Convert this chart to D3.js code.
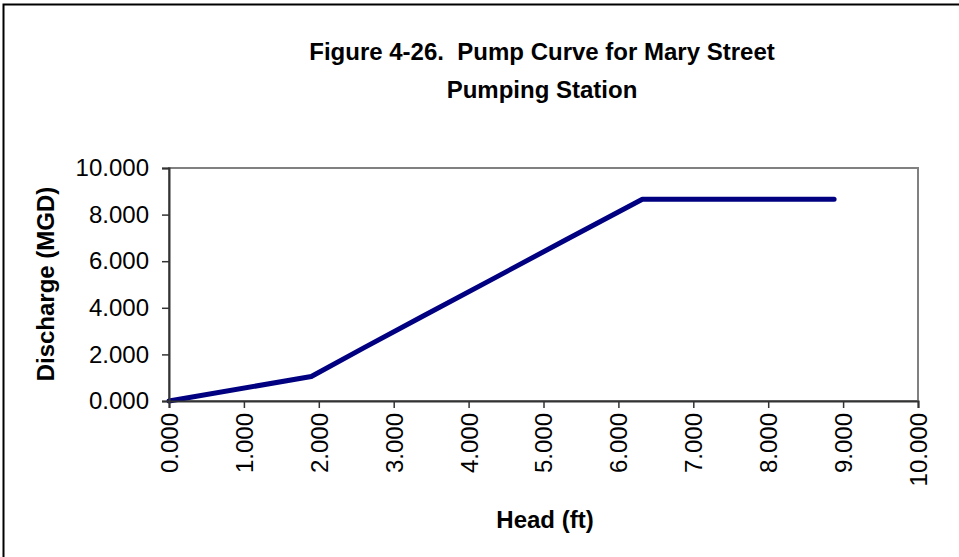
<!DOCTYPE html>
<html>
<head>
<meta charset="utf-8">
<script src="https://cdn.jsdelivr.net/npm/d3@7"></script>
<style>
  body { margin: 0; background: #fff; }
  text { font-family: "Liberation Sans", Arial, sans-serif; fill: #000; white-space: pre; }
</style>
</head>
<body>
<svg width="959" height="557"></svg>
<script>
// head (ft) vs discharge (MGD)
const head      = [0, 1.9, 2.6, 3.4, 4.3, 5.3, 6.32, 8.88];
const discharge = [0, 1.05, 2.28, 3.66, 5.2, 6.92, 8.66, 8.66];
const xTicks = [0, 1, 2, 3, 4, 5, 6, 7, 8, 9, 10];
const yTicks = [0, 2, 4, 6, 8, 10];
const titleLines = ["Figure 4-26.  Pump Curve for Mary Street", "Pumping Station"];

const svg = d3.select("svg");
const m = {left: 169, right: 918, top: 168, bottom: 401};

// outer chart frame
svg.append("rect")
    .attr("x", 3.5).attr("y", 4.5)
    .attr("width", 980).attr("height", 600)
    .attr("fill", "none").attr("stroke", "#000").attr("stroke-width", 2);

const x = d3.scaleLinear().domain([0, 10]).range([m.left, m.right]);
const y = d3.scaleLinear().domain([0, 10]).range([m.bottom, m.top]);
const fmt = d3.format(".3f");

// plot border (top/right grey)
svg.append("rect")
    .attr("x", m.left).attr("y", m.top)
    .attr("width", m.right - m.left).attr("height", m.bottom - m.top)
    .attr("fill", "none").attr("stroke", "#808080").attr("stroke-width", 2);

const line = d3.line().x((d, i) => x(head[i])).y(d => y(d));
svg.append("path")
    .datum(discharge)
    .attr("d", line)
    .attr("fill", "none")
    .attr("stroke", "#000080")
    .attr("stroke-width", 5)
    .attr("stroke-linecap", "round")
    .attr("stroke-linejoin", "round");

const yAxis = svg.append("g")
    .attr("transform", `translate(${m.left},0)`)
    .call(d3.axisLeft(y).tickValues(yTicks).tickFormat(fmt).tickSize(7).tickPadding(13));
const xAxis = svg.append("g")
    .attr("transform", `translate(0,${m.bottom})`)
    .call(d3.axisBottom(x).tickValues(xTicks).tickFormat(fmt).tickSize(7));

[yAxis, xAxis].forEach(g => {
    g.select(".domain").attr("stroke", "#333").attr("stroke-width", 2);
    g.selectAll(".tick line").attr("stroke", "#333").attr("stroke-width", 1.5);
    g.selectAll("text").attr("font-size", 24).attr("font-family", "Liberation Sans, Arial, sans-serif").attr("fill", "#000");
});

xAxis.selectAll(".tick text")
    .attr("transform", "rotate(-90)")
    .attr("text-anchor", "end")
    .attr("x", -12)
    .attr("y", 0)
    .attr("dy", "0.35em");

// titles
svg.selectAll("text.title")
    .data(titleLines)
    .join("text")
    .attr("class", "title")
    .attr("x", 542)
    .attr("y", (d, i) => 60 + i * 38)
    .attr("text-anchor", "middle")
    .attr("font-size", 24)
    .attr("font-weight", "bold")
    .text(d => d);

svg.append("text")
    .attr("x", 545).attr("y", 528)
    .attr("text-anchor", "middle")
    .attr("font-size", 24).attr("font-weight", "bold")
    .text("Head (ft)");

svg.append("text")
    .attr("transform", "translate(54,284) rotate(-90)")
    .attr("text-anchor", "middle")
    .attr("font-size", 24).attr("font-weight", "bold")
    .text("Discharge (MGD)");
</script>
</body>
</html>
